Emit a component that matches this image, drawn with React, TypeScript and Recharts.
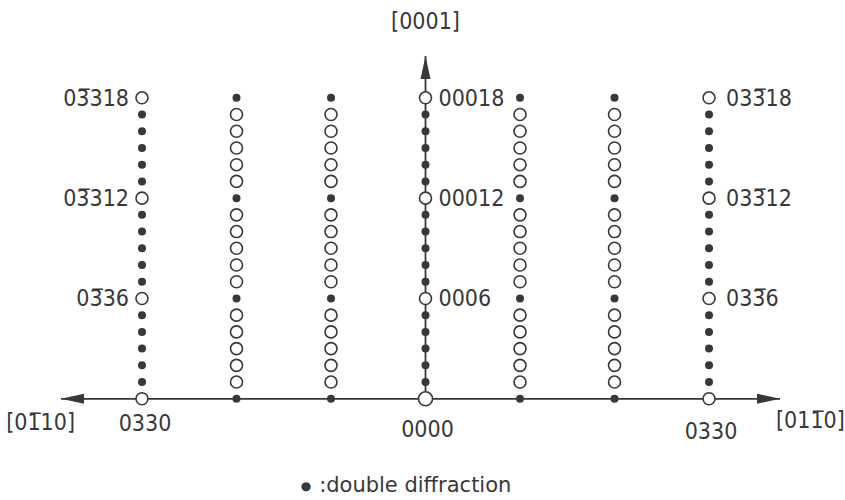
import React, { useEffect } from 'react';
import { ScatterChart, Scatter, XAxis, YAxis } from 'recharts';

// rows along [01-10] (h in thirds of 03-30) and spot index l along [0001]
const mainRows = [-3, 0, 3];
const midRows = [-2, -1, 1, 2];
const allowedL = [0, 6, 12, 18];
const otherL = [1, 2, 3, 4, 5, 7, 8, 9, 10, 11, 13, 14, 15, 16, 17];

const spotLabels = [
  { h: -3, l: 18, text: '03\u0305318', side: 'left' },
  { h: -3, l: 12, text: '03\u0305312', side: 'left' },
  { h: -3, l: 6, text: '03\u030536', side: 'left' },
  { h: 0, l: 18, text: '00018', side: 'right' },
  { h: 0, l: 12, text: '00012', side: 'right' },
  { h: 0, l: 6, text: '0006', side: 'right' },
  { h: 3, l: 18, text: '033\u030518', side: 'right' },
  { h: 3, l: 12, text: '033\u030512', side: 'right' },
  { h: 3, l: 6, text: '033\u03056', side: 'right' },
];
const baseLabels = [
  { h: -3, l: 0, text: '0330' },
  { h: 0, l: 0, text: '0000' },
  { h: 3, l: 0, text: '0330' },
];
const titleUp = '[0001]';
const titleLeft = '[01\u030510]';
const titleRight = '[011\u03050]';
const legendText = ':double diffraction';

const X_MIN = -3.857;
const X_MAX = 3.751;
const Y_MIN = -1;
const Y_MAX = 20.5;

const INK = '#383838';
const FONT = "'DejaVu Sans Condensed', 'Liberation Sans Narrow', 'DejaVu Sans', sans-serif";

const cross = (hs: number[], ls: number[]) =>
  hs.flatMap((h) => ls.map((l) => ({ h, l })));

const openSpots = [...cross(mainRows, allowedL), ...cross(midRows, otherL)];
const filledSpots = [...cross(mainRows, otherL), ...cross(midRows, allowedL)];

const hAxis = [
  { h: X_MIN, l: 0, dir: 'left', title: titleLeft },
  { h: X_MAX, l: 0, dir: 'right', title: titleRight },
];
const vAxis = [
  { h: 0, l: 0, dir: 'none', title: '' },
  { h: 0, l: Y_MAX, dir: 'up', title: titleUp },
];

const textStyle = { fontFamily: FONT, fontSize: 23, fill: INK, fontStretch: 'condensed' } as any;

const ArrowEnd = (props: any) => {
  const { cx, cy, payload } = props;
  const len = 23;
  const hw = 5;
  if (payload.dir === 'left') {
    return (
      <g>
        <polygon points={`${cx},${cy} ${cx + len},${cy - hw} ${cx + len},${cy + hw}`} fill={INK} />
        <text x={cx + 14} y={cy + 23} textAnchor="end" dominantBaseline="central" style={textStyle}>
          {payload.title}
        </text>
      </g>
    );
  }
  if (payload.dir === 'right') {
    return (
      <g>
        <polygon points={`${cx},${cy} ${cx - len},${cy - hw} ${cx - len},${cy + hw}`} fill={INK} />
        <text x={cx - 4} y={cy + 21} textAnchor="start" dominantBaseline="central" style={textStyle}>
          {payload.title}
        </text>
      </g>
    );
  }
  if (payload.dir === 'up') {
    return (
      <g>
        <polygon points={`${cx},${cy} ${cx - hw},${cy + len} ${cx + hw},${cy + len}`} fill={INK} />
        <text x={cx} y={cy - 35} textAnchor="middle" dominantBaseline="central" style={textStyle}>
          {payload.title}
        </text>
      </g>
    );
  }
  return <g />;
};

const OpenSpot = (props: any) => {
  const { cx, cy, payload } = props;
  const r = payload.h === 0 && payload.l === 0 ? 7 : 6;
  return <circle cx={cx} cy={cy} r={r} fill="#fff" stroke={INK} strokeWidth={1.6} />;
};

const FilledSpot = (props: any) => {
  const { cx, cy } = props;
  return <circle cx={cx} cy={cy} r={4} fill={INK} />;
};

const SpotLabel = (props: any) => {
  const { cx, cy, payload } = props;
  const left = payload.side === 'left';
  const dx = left ? -13 : payload.h === 0 ? 13 : 17;
  return (
    <text
      x={cx + dx}
      y={cy}
      textAnchor={left ? 'end' : 'start'}
      dominantBaseline="central"
      style={textStyle}
    >
      {payload.text}
    </text>
  );
};

const BaseLabel = (props: any) => {
  const { cx, cy, payload } = props;
  const dy = payload.h < 0 ? 24 : payload.h === 0 ? 30 : 32;
  return (
    <text
      x={cx + (payload.h < 0 ? 3 : 2)}
      y={cy + dy}
      textAnchor="middle"
      dominantBaseline="central"
      style={textStyle}
    >
      {payload.text}
    </text>
  );
};

export default function App() {
  useEffect(() => {
    document.body.style.margin = '0';
  }, []);

  return (
    <div style={{ position: 'relative', width: 845, height: 500, background: '#fff' }}>
      <ScatterChart width={845} height={500} margin={{ top: 56, right: 65, bottom: 84.5, left: 61 }}>
        <XAxis type="number" dataKey="h" domain={[X_MIN, X_MAX]} hide />
        <YAxis type="number" dataKey="l" domain={[Y_MIN, Y_MAX]} hide />
        <Scatter
          data={hAxis}
          line={{ stroke: INK, strokeWidth: 1.8 }}
          shape={<ArrowEnd />}
          isAnimationActive={false}
        />
        <Scatter
          data={vAxis}
          line={{ stroke: INK, strokeWidth: 1.8 }}
          shape={<ArrowEnd />}
          isAnimationActive={false}
        />
        <Scatter data={filledSpots} shape={<FilledSpot />} isAnimationActive={false} />
        <Scatter data={openSpots} shape={<OpenSpot />} isAnimationActive={false} />
        <Scatter data={spotLabels} shape={<SpotLabel />} isAnimationActive={false} />
        <Scatter data={baseLabels} shape={<BaseLabel />} isAnimationActive={false} />
      </ScatterChart>
      <div
        style={{
          position: 'absolute',
          left: 0,
          width: 812,
          top: 471,
          textAlign: 'center',
          fontFamily: "'DejaVu Sans', sans-serif",
          fontSize: 21,
          color: INK,
          lineHeight: '28px',
        }}
      >
        <span style={{ fontSize: 12, marginRight: 8, verticalAlign: '2px' }}>{'\u25CF'}</span>
        {legendText}
      </div>
    </div>
  );
}
